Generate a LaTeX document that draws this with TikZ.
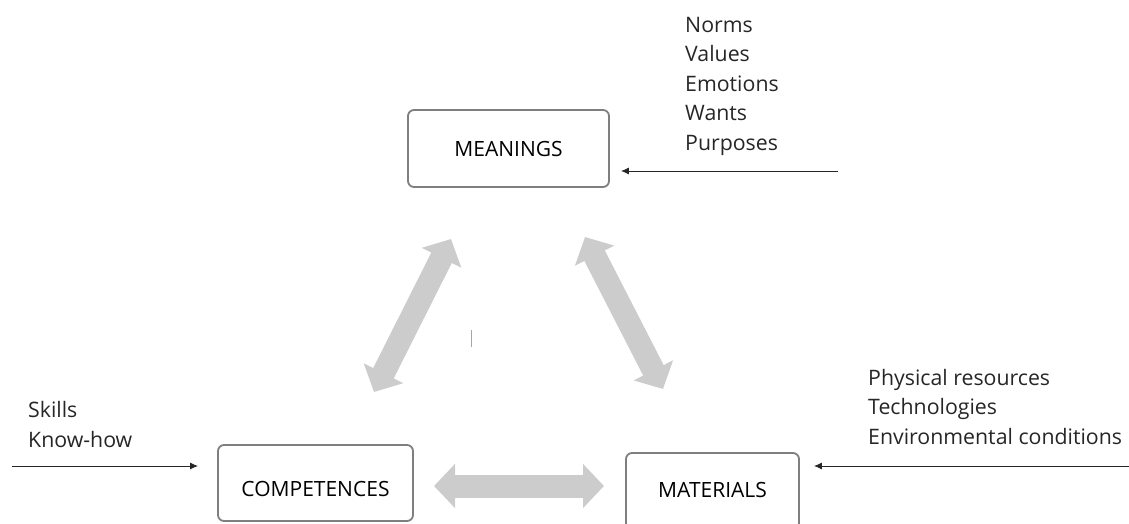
\documentclass[tikz,border=0pt]{standalone}
\usepackage{fontspec}
\setmainfont{Open Sans}
\usetikzlibrary{arrows.meta}
\definecolor{boxline}{HTML}{7F7F7F}
\definecolor{linkgray}{HTML}{CCCCCC}
\definecolor{ink}{HTML}{262626}
\begin{document}
\begin{tikzpicture}[x=1pt,y=-1pt,
  box/.style={draw=boxline, line width=1.8pt, rounded corners=6pt, inner sep=0pt},
  boxtext/.style={inner sep=0pt, text=black, font=\fontsize{21}{25}\selectfont},
  side/.style={inner sep=0pt, align=left, text=ink, font=\fontsize{21.3}{29.5}\selectfont},
  feed/.style={draw=ink, line width=1pt, -{Latex[length=8pt,width=7pt]}},
  link/.style={draw=linkgray, line width=23pt,
    {Triangle[width=43pt 0,length=21pt 0]}-{Triangle[width=43pt 0,length=21pt 0]}}]
\useasboundingbox (0,0) rectangle (1129,523);

% the three elements of a practice
\node[box, minimum width=201pt, minimum height=77pt] (meanings) at (508.5,148.5) {};
\node[boxtext] (meaningsT) at (508.5,148.5) {MEANINGS};
\node[box, minimum width=195pt, minimum height=76pt] (comp) at (315.5,483) {};
\node[boxtext] (compT) at (315.5,489) {COMPETENCES};
\node[box, minimum width=173pt, minimum height=76pt] (mat) at (712.5,491) {};
\node[boxtext] (matT) at (712.5,490) {MATERIALS};

% links between the elements
\coordinate (hL) at (434,486);
\coordinate (hR) at (604,486);
\coordinate (lB) at (374,392);
\coordinate (lT) at (451,239);
\coordinate (rT) at (585,237);
\coordinate (rB) at (663,389);
\draw[link] (hL) -- (hR);
\draw[link] (lB) -- (lT);
\draw[link] (rT) -- (rB);
\draw[boxline!70, line width=0.8pt] (471,330) -- (471,347);

% inputs feeding each element (anchored at the baseline of the last line)
\node[side, anchor=base west] (mIn) at (685,150) {Norms\\Values\\Emotions\\Wants\\Purposes};
\node[side, anchor=base west] (matIn) at (868,444) {Physical resources\\Technologies\\Environmental conditions};
\node[side, anchor=base west] (compIn) at (28,447) {Skills\\Know-how};

\coordinate (mStart) at (838,171);
\coordinate (matStart) at (1129,466);
\coordinate (compStart) at (12,466);
\draw[feed, shorten >=11pt] (mStart) -- (mStart -| meanings.east);
\draw[feed, shorten >=14pt] (matStart) -- (matStart -| mat.east);
\draw[feed, shorten >=19pt] (compStart) -- (compStart -| comp.west);
\end{tikzpicture}
\end{document}
